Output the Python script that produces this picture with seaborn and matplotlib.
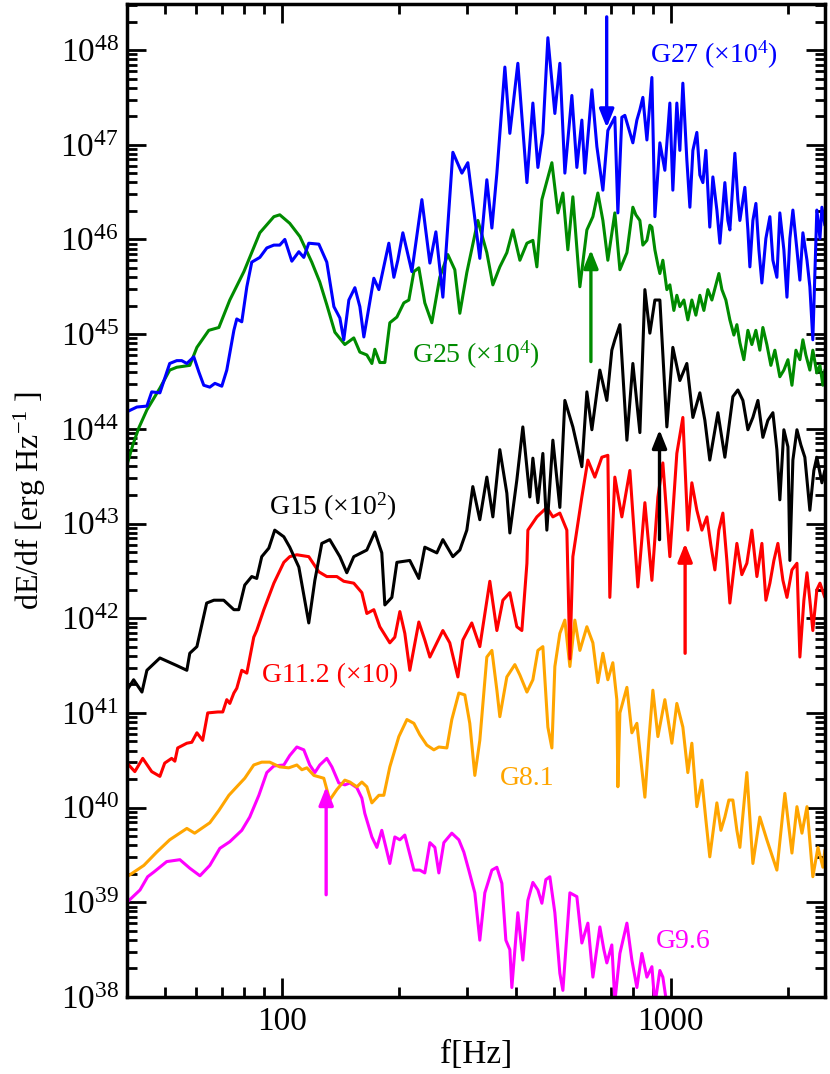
import numpy as np
import pandas as pd
import matplotlib
matplotlib.use("Agg")
import matplotlib.pyplot as plt
import seaborn as sns
from matplotlib.ticker import LogLocator, NullFormatter

# frequencies in Hz, spectra given as log10(dE/df)
g27_f = [40, 42.4, 45, 46.3, 48.6, 51.5, 53.7, 55.3, 57.0, 59.4, 61.2, 63.0, 65.3, 67.3, 70.1, 72.2, 75.3, 76.6, 78.9, 81.3,
         83.7, 87.8, 91.5, 95.4, 98.8, 101.8, 106.1, 110.6, 113.9, 117.3, 124.5, 130.5, 136.1, 141.0, 144.3, 148.7, 154.1, 158.7, 162.5, 172.4,
         177.6, 188.4, 194.1, 198.7, 204.7, 215.9, 229.1, 240.2, 248.9, 259.4, 275.2, 290.3, 300.7, 322.8, 336.5, 346.7, 357.1, 374.4, 385.6, 404.3,
         426.6, 441.9, 455.2, 468.8, 482.9, 503.3, 518.4, 534.0, 556.6, 573.3, 590.5, 601.1, 626.6, 645.4, 668.8, 688.7, 717.8, 730.8, 748.2, 761.6,
         798.6, 817.8, 832.5, 847.3, 867.8, 893.8, 909.8, 937.0, 965.1, 994.1, 1011.8, 1036, 1054.6, 1073.6, 1099.2, 1119.2, 1139.2, 1166.3, 1187.3, 1208.8,
         1230.3, 1259, 1282.3, 1313, 1336.5, 1376.6, 1401.4, 1418, 1460.6, 1486.6, 1504.5, 1549.5, 1577.6, 1596.3, 1624.9, 1654.3, 1683.9, 1713.7, 1754.8, 1796.9,
         1829.2, 1873, 1906, 1952, 1988, 2022.7, 2059, 2109, 2146, 2184.6, 2238, 2276.5, 2317, 2372.6, 2417, 2444.6, 2488]
g27_log = [44.18, 44.23, 44.24, 44.39, 44.38, 44.69, 44.72, 44.72, 44.69, 44.76, 44.60, 44.46, 44.44, 44.48, 44.45, 44.62, 45.04, 45.16, 45.13, 45.50,
           45.76, 45.81, 45.91, 45.94, 45.94, 46.00, 45.77, 45.87, 45.81, 45.96, 45.95, 45.76, 45.29, 45.17, 44.94, 45.36, 45.49, 45.29, 44.97, 45.59,
           45.47, 45.96, 45.60, 45.78, 46.07, 45.66, 46.42, 45.75, 46.08, 45.39, 46.92, 46.70, 46.81, 45.80, 46.63, 46.12, 46.70, 47.82, 47.12, 47.86,
           46.60, 47.44, 46.76, 47.12, 48.13, 47.33, 47.86, 46.70, 47.52, 46.76, 47.26, 46.70, 47.58, 46.98, 46.52, 47.15, 47.29, 46.28, 47.29, 47.31,
           47.02, 47.26, 47.37, 47.50, 47.05, 47.71, 46.24, 47.02, 46.73, 47.44, 46.52, 47.44, 46.94, 47.65, 46.84, 46.34, 46.94, 47.13, 46.68, 46.60,
           46.94, 46.13, 46.66, 46.31, 45.96, 46.60, 46.20, 46.10, 46.91, 46.42, 46.20, 46.55, 46.10, 45.71, 46.20, 46.38, 45.89, 45.54, 46.01, 46.24,
           45.78, 45.60, 46.28, 45.89, 45.39, 46.01, 46.31, 45.89, 45.57, 46.07, 45.78, 45.50, 44.94, 46.31, 46.01, 46.34, 46.15]

g25_f = [40.0, 41.4, 42.9, 45.0, 48.6, 51.5, 53.7, 58.0, 60.5, 64.9, 68.9, 73.5, 79.9, 87.8, 95.4, 98.8, 104.8, 111.3, 119.4, 125.2,
         130.5, 136.9, 145.2, 153.1, 158.7, 165.4, 170.4, 173.4, 178.6, 184.0, 189.5, 197.6, 205.9, 212.1, 218.5, 225.0, 233.1, 243.0, 254.7, 267.1,
         278.4, 286.8, 298.9, 319.1, 336.5, 348.7, 363.4, 378.8, 392.5, 409.2, 426.6, 441.9, 452.5, 466.1, 494.5, 512.4, 527.8, 543.5, 559.9, 583.6,
         608.3, 630.3, 649.2, 668.8, 688.7, 717.8, 739.6, 770.9, 798.6, 812.8, 832.5, 847.3, 867.8, 883.2, 893.8, 909.8, 926.1, 937.0, 953.7, 976.6,
         994.1, 1017.9, 1036, 1054.6, 1080, 1105.8, 1132.3, 1159.6, 1187.3, 1215.8, 1244.9, 1274.8, 1305.3, 1328.7, 1352.7, 1384.8, 1418, 1452.2, 1478, 1504.5,
         1540.4, 1577.6, 1615, 1654, 1693, 1723.9, 1765, 1807.5, 1850.8, 1906, 1952, 1999.6, 2047.5, 2096.4, 2146, 2184.6, 2223.3, 2276.5, 2317, 2372.6,
         2417, 2459, 2488]
g25_log = [43.62, 43.83, 44.01, 44.20, 44.43, 44.62, 44.65, 44.67, 44.86, 45.04, 45.07, 45.36, 45.66, 46.07, 46.24, 46.26, 46.17, 46.03, 45.76, 45.55,
           45.31, 45.02, 44.89, 44.96, 44.81, 44.78, 44.69, 44.84, 44.70, 44.70, 45.12, 45.18, 45.33, 45.36, 45.66, 45.70, 45.33, 45.12, 45.60, 45.84,
           45.68, 45.22, 45.65, 46.20, 45.86, 45.52, 45.71, 45.86, 46.10, 45.78, 45.96, 45.99, 45.71, 46.42, 46.81, 46.28, 46.49, 45.89, 46.45, 45.50,
           46.10, 46.24, 46.49, 46.20, 45.78, 46.28, 45.68, 45.86, 46.34, 46.26, 46.20, 45.94, 45.99, 46.15, 46.13, 45.89, 45.73, 45.64, 45.78, 45.47,
           45.52, 45.25, 45.41, 45.29, 45.36, 45.15, 45.36, 45.20, 45.41, 45.25, 45.47, 45.36, 45.52, 45.64, 45.47, 45.36, 45.15, 44.99, 45.10, 44.91,
           44.73, 45.04, 44.89, 45.04, 44.83, 45.07, 44.89, 44.67, 44.83, 44.55, 44.62, 44.73, 44.46, 44.83, 44.73, 44.94, 44.78, 44.62, 44.83, 44.59,
           44.67, 44.46, 44.62]

g15_f = [40.0, 41.6, 43.7, 45.0, 48.6, 53.7, 57.0, 58.0, 60.5, 64.1, 66.9, 70.9, 75.3, 77.5, 80.3, 83.7, 86.2, 88.8, 92.6, 95.9,
         101.2, 104.8, 110.6, 117.3, 121.6, 126.7, 132.8, 141.0, 146.9, 153.1, 165.4, 173.4, 180.7, 184.0, 191.8, 197.6, 213.3, 225.0, 233.1, 250.3,
         259.4, 275.2, 286.8, 298.9, 309.7, 322.8, 336.5, 348.7, 363.4, 378.8, 385.6, 401.9, 416.4, 434.0, 441.9, 455.2, 468.8, 480.0, 497.4, 518.4,
         534.0, 559.9, 590.5, 608.3, 626.6, 656.9, 684.6, 705.1, 717.8, 739.6, 770.9, 798.6, 832.5, 857.5, 883.2, 909.8, 937.0, 976.6, 1011.8, 1054.6,
         1099.2, 1139.2, 1187.3, 1223.0, 1259, 1321, 1376.6, 1443.4, 1486.6, 1531.6, 1577.6, 1624.9, 1674, 1723.9, 1775.9, 1829.2, 1873, 1906, 1952, 1999.6,
         2022.7, 2059, 2109, 2158.5, 2210, 2276.5, 2331, 2372.6, 2444.6, 2488]
g15_log = [41.24, 41.35, 41.22, 41.45, 41.58, 41.50, 41.45, 41.63, 41.70, 42.16, 42.19, 42.19, 42.09, 42.09, 42.35, 42.44, 42.42, 42.65, 42.74, 42.93,
           42.86, 42.75, 42.54, 41.95, 42.40, 42.79, 42.83, 42.65, 42.48, 42.65, 42.72, 42.91, 42.69, 42.14, 42.22, 42.59, 42.61, 42.42, 42.75, 42.69,
           42.83, 42.65, 42.72, 42.93, 43.39, 43.04, 43.49, 43.07, 43.78, 43.32, 42.90, 43.46, 44.02, 43.28, 43.69, 43.22, 43.74, 42.93, 43.88, 43.17,
           44.30, 44.02, 43.60, 44.39, 43.99, 44.62, 44.30, 44.83, 44.94, 45.10, 43.88, 44.69, 43.96, 45.47, 45.01, 45.36, 45.36, 44.02, 44.86, 44.51,
           44.69, 44.12, 44.38, 44.09, 43.67, 44.17, 43.70, 44.34, 44.41, 44.30, 43.99, 44.12, 44.30, 43.91, 44.09, 44.17, 43.78, 43.25, 43.99, 43.81,
           42.61, 43.67, 43.99, 43.83, 43.70, 43.14, 43.56, 43.70, 43.43, 43.56]

g112_f = [40.0, 41.9, 43.9, 46.3, 48.6, 50.0, 52.1, 53.1, 54.0, 57.0, 58.7, 60.5, 62.6, 64.5, 68.5, 70.5, 72.2, 73.5, 75.3, 76.6,
          78.9, 81.3, 84.7, 86.2, 89.9, 95.4, 101.2, 104.8, 109.3, 117.3, 124.5, 130.5, 138.5, 144.3, 153.1, 160.6, 165.4, 172.4, 178.6, 189.5,
          195.2, 201.1, 207.1, 213.3, 225.0, 233.1, 240.2, 259.4, 270.2, 283.5, 292.0, 307.8, 322.8, 342.5, 357.1, 370.0, 385.6, 401.9, 414.0, 426.6,
          429.0, 452.5, 480.0, 497.4, 518.4, 540.3, 550.1, 559.9, 590.5, 611.9, 637.7, 664.7, 688.7, 696.8, 717.8, 748.2, 784.6, 822.7, 857.5, 893.8,
          926.1, 953.7, 994.1, 1036, 1073.6, 1105.8, 1132.3, 1166.3, 1201.6, 1237.6, 1267.2, 1297.6, 1328.7, 1360.5, 1393, 1418, 1478, 1522, 1568, 1615,
          1664, 1714, 1755, 1797, 1840, 1884, 1941, 1988, 2047.5, 2109, 2146, 2197.5, 2238, 2276.5, 2317, 2372.6, 2417, 2488]
g112_log = [40.47, 40.38, 40.52, 40.38, 40.33, 40.47, 40.52, 40.49, 40.63, 40.68, 40.69, 40.79, 40.71, 41.00, 41.01, 41.01, 41.14, 41.10, 41.21, 41.26,
            41.45, 41.42, 41.80, 41.87, 42.09, 42.37, 42.59, 42.65, 42.67, 42.65, 42.49, 42.44, 42.44, 42.39, 42.37, 42.27, 42.05, 42.09, 41.91, 41.74,
            41.80, 42.07, 41.84, 41.45, 41.96, 41.77, 41.59, 41.87, 41.74, 41.38, 41.77, 41.95, 41.70, 42.39, 41.87, 42.19, 42.27, 41.91, 41.87, 42.58,
            42.93, 43.07, 43.17, 43.07, 43.11, 42.93, 41.57, 42.65, 43.28, 43.67, 43.49, 43.70, 43.72, 42.22, 43.49, 43.07, 43.56, 42.33, 43.22, 42.40,
            43.28, 43.64, 42.65, 43.74, 44.12, 42.93, 43.43, 43.14, 42.93, 43.07, 42.77, 42.51, 42.93, 43.11, 42.61, 42.16, 42.79, 42.46, 42.58, 42.93,
            42.44, 42.79, 42.19, 42.37, 42.61, 42.79, 42.40, 42.22, 42.51, 42.58, 41.59, 42.19, 42.48, 42.19, 41.87, 42.30, 42.37, 42.22]

g81_f = [40.0, 44.2, 47.7, 51.5, 57.0, 59.7, 65.3, 68.9, 73.1, 76.6, 80.3, 84.7, 88.8, 93.1, 98.8, 104.2, 109.3, 112.6, 116.0, 120.9,
         128.2, 132.8, 138.5, 145.2, 149.6, 155.9, 160.6, 165.4, 170.4, 177.6, 182.9, 189.5, 199.9, 209.7, 218.5, 226.3, 235.9, 245.9, 253.3, 265.6,
         273.5, 285.1, 295.4, 304.2, 313.4, 322.8, 336.5, 346.7, 357.1, 363.4, 378.8, 397.2, 409.2, 426.6, 441.9, 455.2, 468.8, 482.9, 494.5, 503.3,
         518.4, 534.0, 550.1, 566.5, 583.6, 608.3, 630.3, 649.2, 668.8, 688.7, 709.3, 726.3, 730.8, 739.6, 770.9, 793.9, 817.8, 837.4, 857.5, 877.9,
         899.0, 926.1, 965.1, 1006, 1036, 1073.6, 1105.8, 1132.3, 1166.3, 1201.6, 1230.3, 1259, 1313, 1344.7, 1376.6, 1409.6, 1443.4, 1478, 1504.5, 1568,
         1625, 1693, 1765, 1818, 1873, 1963.5, 2047.5, 2109, 2172.5, 2238, 2317, 2388.5, 2459, 2488]
g81_log = [39.27, 39.39, 39.53, 39.66, 39.78, 39.73, 39.84, 39.97, 40.13, 40.22, 40.31, 40.45, 40.48, 40.48, 40.43, 40.42, 40.45, 40.40, 40.42, 40.34,
           40.31, 40.08, 40.19, 40.29, 40.27, 40.22, 40.27, 40.22, 40.05, 40.13, 40.13, 40.43, 40.75, 40.93, 40.89, 40.77, 40.66, 40.61, 40.64, 40.63,
           40.93, 41.21, 41.19, 40.89, 40.34, 40.71, 41.59, 41.66, 41.24, 40.96, 41.38, 41.51, 41.40, 41.22, 41.35, 41.66, 41.70, 40.85, 40.63, 41.49,
           41.84, 41.98, 41.49, 41.98, 41.66, 41.91, 41.74, 41.32, 41.63, 41.35, 41.53, 41.14, 40.22, 41.00, 41.27, 40.79, 40.89, 40.50, 40.11, 40.71,
           41.24, 40.75, 41.14, 40.68, 41.10, 40.85, 40.37, 40.68, 40.01, 40.29, 39.87, 39.48, 40.05, 39.76, 39.90, 40.08, 40.08, 39.76, 39.58, 40.37,
           39.41, 39.90, 39.66, 39.50, 39.34, 40.15, 39.52, 40.01, 39.73, 40.01, 39.27, 39.58, 39.37, 39.55]

g96_f = [40.0, 43.2, 45.2, 46.9, 50.6, 54.7, 58.0, 61.6, 65.3, 69.3, 73.5, 78.9, 82.7, 87.3, 91.5, 95.4, 101.2, 104.8, 109.3, 113.9,
         118.0, 121.6, 125.2, 130.5, 134.5, 140.1, 145.2, 149.6, 155.9, 160.6, 163.4, 170.4, 175.5, 180.7, 189.5, 195.2, 201.1, 207.1, 218.5, 226.3,
         233.1, 240.2, 247.4, 253.3, 260.9, 273.5, 285.1, 293.7, 302.4, 313.4, 322.8, 332.5, 346.7, 357.1, 367.8, 376.6, 385.6, 390.2, 404.3, 416.4,
         429.0, 441.9, 455.2, 466.1, 477.2, 488.6, 503.3, 518.4, 527.8, 550.1, 573.3, 590.5, 611.9, 630.3, 656.9, 672.7, 684.6, 705.1, 717.8, 739.6,
         770.9, 793.9, 817.8, 842.3, 867.8, 893.8, 909.8, 937.0, 953.7, 976.6]
g96_log = [39.00, 39.13, 39.27, 39.32, 39.43, 39.45, 39.36, 39.28, 39.39, 39.57, 39.64, 39.76, 39.90, 40.13, 40.37, 40.44, 40.45, 40.55, 40.64, 40.61,
           40.45, 40.37, 40.45, 40.52, 40.43, 40.26, 40.24, 40.26, 40.21, 40.10, 39.94, 39.69, 39.58, 39.76, 39.41, 39.69, 39.66, 39.71, 39.34, 39.34,
           39.31, 39.63, 39.58, 39.31, 39.63, 39.73, 39.66, 39.53, 39.34, 39.10, 38.60, 39.10, 39.34, 39.37, 39.20, 38.60, 38.50, 38.10, 38.89, 38.39,
           39.02, 39.21, 39.13, 38.99, 39.24, 39.27, 38.89, 38.25, 38.07, 39.10, 39.06, 38.57, 38.78, 38.21, 38.74, 38.50, 38.36, 38.55, 37.95, 38.46,
           38.78, 38.39, 38.10, 38.46, 38.21, 38.32, 37.92, 38.28, 38.21, 37.92]

models = ["G9.6", "G8.1", "G11.2", "G15", "G25", "G27"]
colors = ["#ff00ff", "#ffa500", "#ff0000", "#000000", "#008b00", "#0000ff"]
freqs = [g96_f, g81_f, g112_f, g15_f, g25_f, g27_f]
logs = [g96_log, g81_log, g112_log, g15_log, g25_log, g27_log]

# frequency of each marked arrow, and log10 of its tail / head
arrow_model = ["G27", "G25", "G15", "G11.2", "G9.6"]
arrow_f = [684, 623, 935, 1088, 130]
arrow_from = [48.35, 44.71, 42.83, 41.63, 39.08]
arrow_to = [47.18, 45.89, 43.99, 42.79, 40.22]

frames = []
for m, f, lg in zip(models, freqs, logs):
    frames.append(pd.DataFrame({"f": f, "dEdf": 10.0 ** np.array(lg), "model": m}))
df = pd.concat(frames, ignore_index=True)
palette = dict(zip(models, colors))

sns.set_theme(style="ticks")
plt.rcParams["font.family"] = ["Liberation Serif", "DejaVu Serif"]
plt.rcParams["mathtext.fontset"] = "custom"
plt.rcParams["mathtext.rm"] = "Liberation Serif"
plt.rcParams["mathtext.it"] = "Liberation Serif:italic"
plt.rcParams["mathtext.bf"] = "Liberation Serif:bold"
for k in ["text.color", "axes.labelcolor", "xtick.color", "ytick.color", "axes.edgecolor"]:
    plt.rcParams[k] = "black"

fig = plt.figure(figsize=(8.3, 10.74), dpi=100)
ax = fig.add_axes([127 / 830, 1 - 997 / 1074, 698 / 830, 993 / 1074])
ax.set_xscale("log")
ax.set_yscale("log")

sns.lineplot(data=df, x="f", y="dEdf", hue="model", hue_order=models, palette=palette,
             estimator=None, sort=False, lw=2.2, legend=False, ax=ax)

for m, f, a, b in zip(arrow_model, arrow_f, arrow_from, arrow_to):
    ax.annotate("", xy=(f, 10 ** b), xytext=(f, 10 ** a),
                arrowprops=dict(arrowstyle="-|>,head_length=0.55,head_width=0.22", color=palette[m],
                                lw=2.4, shrinkA=0, shrinkB=0, mutation_scale=20))

ax.text(883, 10 ** 47.87, "G27 (×10$^{4}$)", color=palette["G27"], fontsize=20, va="baseline")
ax.text(216, 10 ** 44.70, "G25 (×10$^{4}$)", color=palette["G25"], fontsize=20, va="baseline")
ax.text(92.6, 10 ** 43.09, "G15 (×10$^{2}$)", color=palette["G15"], fontsize=20, va="baseline")
ax.text(88.8, 10 ** 41.33, "G11.2 (×10)", color=palette["G11.2"], fontsize=20, va="baseline")
ax.text(363, 10 ** 40.24, "G8.1", color=palette["G8.1"], fontsize=20, va="baseline")
ax.text(915, 10 ** 38.52, "G9.6", color=palette["G9.6"], fontsize=20, va="baseline")

ax.set_xlim(40, 2490)
ax.set_ylim(1e38, 10 ** 48.486)
ax.set_xticks([100, 1000])
ax.set_xticklabels(["100", "1000"])
ax.xaxis.set_minor_locator(LogLocator(base=10, subs=np.arange(2, 10), numticks=50))
ax.xaxis.set_minor_formatter(NullFormatter())
ax.set_yticks([10.0 ** k for k in range(38, 49)])
ax.yaxis.set_minor_locator(LogLocator(base=10, subs=np.arange(2, 10), numticks=100))
ax.yaxis.set_minor_formatter(NullFormatter())

ax.tick_params(which="both", direction="in", top=True, right=True, width=2, color="black")
ax.tick_params(which="major", length=14, labelsize=24)
ax.tick_params(which="minor", length=7)
ax.tick_params(axis="x", which="major", pad=7)
ax.tick_params(axis="y", which="major", pad=6)
for s in ax.spines.values():
    s.set_linewidth(2.5)
    s.set_color("black")

ax.set_xlabel("f[Hz]", fontsize=24)
ax.set_ylabel("dE/df [erg Hz$^{-1}$ ]", fontsize=23)
ax.xaxis.set_label_coords(0.5, -0.043)
ax.yaxis.set_label_coords(-0.113, 0.5)

fig.savefig("out.png", dpi=100)
